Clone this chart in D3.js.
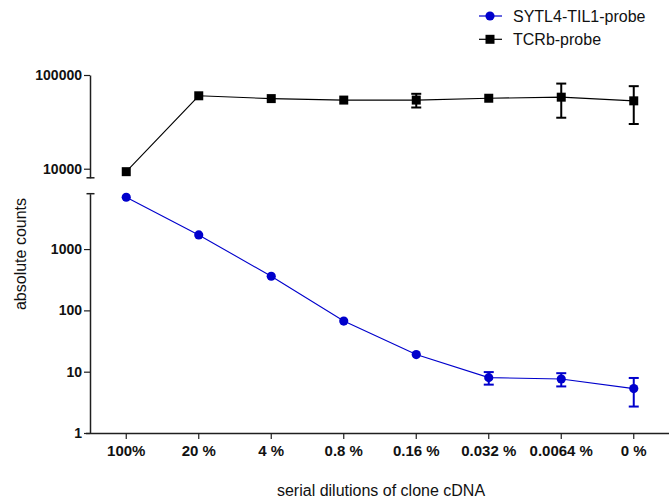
<!DOCTYPE html>
<html>
<head>
<meta charset="utf-8">
<script src="https://cdn.jsdelivr.net/npm/d3@7"></script>
<style>
  html, body { margin: 0; padding: 0; background: #fff; }
  svg { display: block; font-family: "Liberation Sans", Arial, sans-serif; }
</style>
</head>
<body>
<svg id="chart" width="669" height="501"></svg>
<script>
// Dilution steps on the x axis
const categories = ["100%", "20 %", "4 %", "0.8 %", "0.16 %", "0.032 %", "0.0064 %", "0 %"];

// SYTL4-TIL1 probe: mean counts and SD (null = no visible error bar)
const sytl4Mean = [7000, 1700, 360, 67, 19, 8.0, 7.6, 5.3];
const sytl4Sd   = [null, null, null, null, null, 1.85, 1.85, 2.6];

// TCRb probe: mean counts and SD
const tcrbMean = [9300, 60000, 56000, 54000, 54000, 56500, 58000, 53000];
const tcrbSd   = [null, null, null, null, 9000, null, 23000, 23000];

// Broken log axis: lower and upper segments
const lowDomain  = [1, 8000];
const highDomain = [8000, 100000];
const lowMajor  = [1, 10, 100, 1000];
const highMajor = [10000, 100000];
const lowMinor  = [2,3,4,5,6,7,8,9, 20,30,40,50,60,70,80,90, 200,300,400,500,600,700,800,900, 2000,3000,4000,5000,6000,7000];
const highMinor = [20000,30000,40000,50000,60000,70000,80000,90000];

const seriesNames = ["SYTL4-TIL1-probe", "TCRb-probe"];
const blue = "#0000cc";
const axisColor = "#1f1f1f";

const svg = d3.select("#chart");

const x = d3.scaleBand().domain(categories).range([90, 670]).paddingInner(0).paddingOuter(0);
const cx = d => x(d) + x.bandwidth() / 2;

const yLow  = d3.scaleLog().domain(lowDomain).range([433, 193.7]);
const yHigh = d3.scaleLog().domain(highDomain).range([177.8, 75]);
const y = v => (v >= 8000 ? yHigh(v) : yLow(v));

// ---- Y axis (two segments) ----
function drawSegment(scale, major, minor) {
  const g = svg.append("g").attr("transform", "translate(90,0)");
  g.call(d3.axisLeft(scale).tickValues(minor).tickSize(4).tickSizeOuter(0).tickFormat(""));
  g.call(d3.axisLeft(scale).tickValues(major).tickSize(6).tickSizeOuter(0)
    .tickPadding(2).tickFormat(d3.format("d")));
  g.selectAll("path.domain").attr("stroke", axisColor).attr("stroke-width", 1.5);
  g.selectAll(".tick line").attr("stroke", axisColor).attr("stroke-width", 1.2);
  g.selectAll(".tick text")
    .attr("fill", "#111")
    .attr("font-size", 14)
    .attr("font-weight", "bold")
    .attr("font-family", "'Liberation Sans', Arial, sans-serif");
  return g;
}
drawSegment(yLow, lowMajor, lowMinor);
drawSegment(yHigh, highMajor, highMinor);

// caps at the axis break
[yHigh(highDomain[0]), yLow(lowDomain[1])].forEach(py => {
  svg.append("line")
    .attr("x1", 86.5).attr("x2", 94.5)
    .attr("y1", py).attr("y2", py)
    .attr("stroke", axisColor).attr("stroke-width", 1.5);
});

// ---- X axis ----
const gx = svg.append("g").attr("transform", "translate(0,433)")
  .call(d3.axisBottom(x).tickSize(6).tickSizeOuter(0).tickPadding(6));
gx.select("path.domain").attr("stroke", axisColor).attr("stroke-width", 1.5)
  .attr("d", "M86,0.5H670");
gx.selectAll(".tick line").attr("stroke", axisColor).attr("stroke-width", 1.2);
gx.selectAll(".tick text")
  .attr("fill", "#111")
  .attr("font-size", 15)
  .attr("font-weight", "bold")
  .attr("font-family", "'Liberation Sans', Arial, sans-serif");

// ---- Axis titles ----
svg.append("text")
  .attr("x", 381).attr("y", 496)
  .attr("text-anchor", "middle")
  .attr("font-size", 16).attr("fill", "#111")
  .text("serial dilutions of clone cDNA");

svg.append("text")
  .attr("transform", "translate(26,254) rotate(-90)")
  .attr("text-anchor", "middle")
  .attr("font-size", 16).attr("fill", "#111")
  .text("absolute counts");

// ---- Series ----
function drawSeries(means, sds, color, shape) {
  const pts = categories.map((c, i) => ({ c, v: means[i], sd: sds[i] }));
  svg.append("path")
    .datum(pts)
    .attr("fill", "none")
    .attr("stroke", color)
    .attr("stroke-width", 1.1)
    .attr("d", d3.line().x(d => cx(d.c)).y(d => y(d.v)));

  const eb = svg.append("g").attr("stroke", color).attr("stroke-width", 2).attr("fill", "none");
  pts.filter(d => d.sd != null).forEach(d => {
    const px = cx(d.c);
    const top = y(d.v + d.sd), bot = y(d.v - d.sd);
    eb.append("line").attr("x1", px).attr("x2", px).attr("y1", top).attr("y2", bot);
    eb.append("line").attr("x1", px - 5).attr("x2", px + 5).attr("y1", top).attr("y2", top);
    eb.append("line").attr("x1", px - 5).attr("x2", px + 5).attr("y1", bot).attr("y2", bot);
  });

  const sym = d3.symbol().type(shape).size(shape === d3.symbolCircle ? 66 : 81);
  svg.append("g").selectAll("path.pt").data(pts).join("path")
    .attr("transform", d => `translate(${cx(d.c)},${y(d.v)})`)
    .attr("d", sym)
    .attr("fill", color);
}
drawSeries(tcrbMean, tcrbSd, "#000", d3.symbolSquare);
drawSeries(sytl4Mean, sytl4Sd, blue, d3.symbolCircle);

// ---- Legend ----
const legendItems = [
  { name: seriesNames[0], color: blue, shape: d3.symbolCircle, size: 66 },
  { name: seriesNames[1], color: "#000", shape: d3.symbolSquare, size: 81 }
];
const lg = svg.append("g");
legendItems.forEach((it, i) => {
  const ly = 16 + i * 23.3;
  lg.append("line").attr("x1", 479).attr("x2", 502).attr("y1", ly).attr("y2", ly)
    .attr("stroke", it.color).attr("stroke-width", 1.2);
  lg.append("path").attr("transform", `translate(490,${ly})`)
    .attr("d", d3.symbol().type(it.shape).size(it.size)).attr("fill", it.color);
  lg.append("text").attr("x", 513).attr("y", ly).attr("dy", "0.35em")
    .attr("font-size", 16).attr("fill", "#111").text(it.name);
});
</script>
</body>
</html>
